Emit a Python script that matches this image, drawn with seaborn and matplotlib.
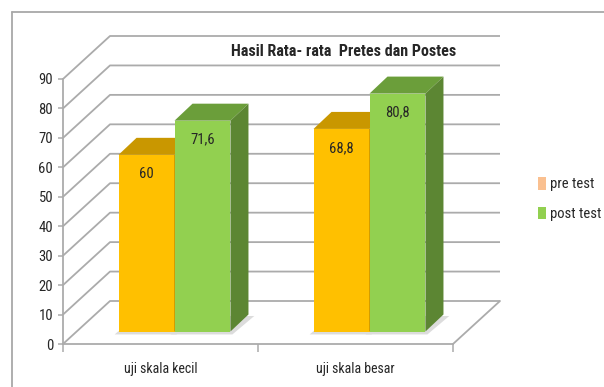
import numpy as np
import pandas as pd
import matplotlib
matplotlib.use("Agg")
import matplotlib.pyplot as plt
import seaborn as sns
from matplotlib import font_manager as fm
from matplotlib.patches import Patch, Polygon
from matplotlib.transforms import ScaledTranslation

# ---- data ----
categories = ["uji skala kecil", "uji skala besar"]
series = ["pre test", "post test"]
pre_values = [60, 68.8]
post_values = [71.6, 80.8]
value_labels_pre = ["60", "68,8"]
value_labels_post = ["71,6", "80,8"]
yticks = [0, 10, 20, 30, 40, 50, 60, 70, 80, 90]
title = "Hasil Rata- rata  Pretes dan Postes"

df = pd.DataFrame({
    "kategori": categories * 2,
    "tes": [series[0]] * 2 + [series[1]] * 2,
    "nilai": pre_values + post_values,
})

# ---- style ----
sns.set_style("white")
names = {f.name for f in fm.fontManager.ttflist}
FONT = "Lato"
NARROW = False
for cand in ["Liberation Sans Narrow", "Roboto Condensed", "Open Sans Condensed"]:
    if cand in names:
        FONT, NARROW = cand, True
        break
plt.rcParams["font.family"] = [FONT, "DejaVu Sans"]
fs_tick = 10.5 if NARROW else 9.5
fs_cat = 10 if NARROW else 9.5
fs_val = 10.5 if NARROW else 10
fs_title = 11.5 if NARROW else 10.5
fs_leg = 10.5 if NARROW else 9.5

front_cols = {"pre test": "#FFC000", "post test": "#92D050"}
top_cols = {"pre test": "#C99700", "post test": "#6B9E3A"}
side_cols = {"pre test": "#A67C00", "post test": "#5C8633"}
legend_cols = ["#FAC090", "#92D050"]
grid_col = "#ABABAB"
text_col = "#262626"

W, H, DPI = 604, 387, 100
fig = plt.figure(figsize=(W / DPI, H / DPI), dpi=DPI)
ax = fig.add_axes([63 / W, (H - 344) / H, 390 / W, 265 / H])

sns.barplot(data=df, x="kategori", y="nilai", hue="tes", order=categories,
            hue_order=series, palette=[front_cols[s] for s in series],
            width=0.574, saturation=1, linewidth=0, legend=False, ax=ax)

ax.set_xlim(-0.5, 1.5)
ax.set_ylim(0, 90)
ax.set_xlabel("")
ax.set_ylabel("")


def px2data(dx, dy):
    inv = ax.transData.inverted()
    o = ax.transData.transform((0, 0))
    a = inv.transform(o)
    b = inv.transform((o[0] + dx, o[1] + dy))
    return b[0] - a[0], b[1] - a[1]


wall_dx, wall_dy = px2data(47, 43)
depth_dx, depth_dy = px2data(18, 17)

# walls: side-wall diagonals and back-wall gridlines
for v in yticks:
    ax.plot([-0.5, -0.5 + wall_dx, 1.5 + wall_dx], [v, v + wall_dy, v + wall_dy],
            color=grid_col, lw=1.3, zorder=1, clip_on=False, solid_capstyle="butt")
# floor right edge
ax.plot([1.5, 1.5 + wall_dx], [0, wall_dy], color=grid_col, lw=1.3, zorder=1, clip_on=False)

# bars: shift to mid-depth and add top/side faces
bar_trans = ax.transData + ScaledTranslation(14 / DPI, 12.5 / DPI, fig.dpi_scale_trans)
labels_by_series = [value_labels_pre, value_labels_post]
for si, (cont, s) in enumerate(zip(ax.containers, series)):
    z = 3 + si
    for bi, bar in enumerate(cont):
        bar.set_transform(bar_trans)
        bar.set_zorder(z)
        bar.set_clip_on(False)
        x0 = bar.get_x()
        x1 = x0 + bar.get_width()
        h = bar.get_height()
        # floor shadow
        sh = Polygon([(x0 - 0.02, -1.0), (x1 + 0.01, -1.0), (x1 + depth_dx + 0.03, depth_dy - 0.5),
                      (x0 + depth_dx, depth_dy - 0.5)], closed=True, facecolor="#DCDCDC",
                     edgecolor="none", transform=bar_trans, zorder=2, clip_on=False)
        ax.add_patch(sh)
        top = Polygon([(x0, h), (x1, h), (x1 + depth_dx, h + depth_dy), (x0 + depth_dx, h + depth_dy)],
                      closed=True, facecolor=top_cols[s], edgecolor="none",
                      transform=bar_trans, zorder=z, clip_on=False)
        side = Polygon([(x1, 0), (x1 + depth_dx, depth_dy), (x1 + depth_dx, h + depth_dy), (x1, h)],
                       closed=True, facecolor=side_cols[s], edgecolor="none",
                       transform=bar_trans, zorder=z, clip_on=False)
        ax.add_patch(top)
        ax.add_patch(side)
        ax.annotate(labels_by_series[si][bi], xy=((x0 + x1) / 2, h), xycoords=bar_trans,
                    xytext=(0, -19), textcoords="offset pixels", ha="center", va="center",
                    fontsize=fs_val, color=text_col, zorder=z + 0.5)

# axes, ticks
for sp in ["top", "right"]:
    ax.spines[sp].set_visible(False)
for sp in ["left", "bottom"]:
    ax.spines[sp].set_color(grid_col)
    ax.spines[sp].set_linewidth(1.3)
    ax.spines[sp].set_zorder(1.5)
ax.set_yticks(yticks)
ax.set_yticklabels([str(v) for v in yticks])
ax.tick_params(axis="y", length=3.6, width=1.1, color=grid_col, pad=3.5,
               labelsize=fs_tick, labelcolor=text_col, left=True)
ax.set_xticks([0, 1])
ax.set_xticklabels(categories)
ax.tick_params(axis="x", which="major", length=0, pad=13, labelsize=fs_cat, labelcolor=text_col)
ax.set_xticks([-0.5, 0.5, 1.5], minor=True)
ax.tick_params(axis="x", which="minor", length=6, width=1.1, color=grid_col, bottom=True)

# title
fig.text(344 / W, 1 - 51 / H, title, ha="center", va="center", fontsize=fs_title,
         fontweight="bold", color=text_col)

# legend
handles = [Patch(facecolor=c, edgecolor="none", label=s) for c, s in zip(legend_cols, series)]
fig.legend(handles=handles, loc="upper left", bbox_to_anchor=(538 / W, 1 - 177 / H),
           frameon=False, handlelength=0.55, handleheight=0.95, handletextpad=0.3,
           labelspacing=1.05, borderpad=0, borderaxespad=0, fontsize=fs_leg,
           labelcolor=text_col)

# outer chart border
fig.add_artist(plt.Line2D([12 / W, 1.0], [1 - 12 / H, 1 - 12 / H], color="#A8A8A8", lw=1.3,
                          transform=fig.transFigure))
fig.add_artist(plt.Line2D([12 / W, 12 / W], [0.0, 1 - 12 / H], color="#A8A8A8", lw=1.3,
                          transform=fig.transFigure))

fig.savefig("out.png", dpi=DPI, facecolor="white")
